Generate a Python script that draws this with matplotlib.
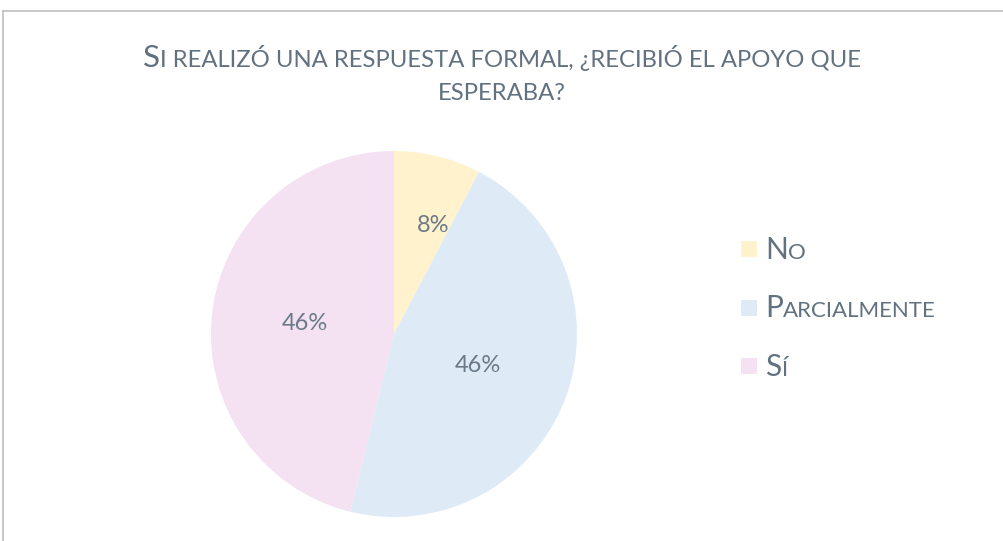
import matplotlib
matplotlib.use("Agg")
import matplotlib.pyplot as plt
from matplotlib.patches import Rectangle
from matplotlib.lines import Line2D
import numpy as np

# ---- data ----
categories = ["No", "Parcialmente", "Sí"]
counts = [1, 6, 6]
colors = ["#FFF2CC", "#DEEAF6", "#F4E2F3"]
title_line1 = "Si realizó una respuesta formal, ¿recibió el apoyo que"
title_line2 = "esperaba?"

W, H = 1004, 541
DPI = 100
TXT = "#617180"
FONT = "Lato"

fig = plt.figure(figsize=(W / DPI, H / DPI), dpi=DPI)
fig.patch.set_facecolor("white")

# frame (top + left visible)
fig.add_artist(Line2D([3 / W, 1.0], [1 - 11 / H, 1 - 11 / H], transform=fig.transFigure,
                      color="#BFBFBF", lw=1.2))
fig.add_artist(Line2D([3 / W, 3 / W], [0, 1 - 11 / H], transform=fig.transFigure,
                      color="#BFBFBF", lw=1.2))

renderer = fig.canvas.get_renderer()


def smallcaps_parts(s, big, small):
    """Split a string into (text, size) pieces emulating small caps."""
    parts = []
    for ch in s:
        sz = big if ch.isupper() else small
        c = ch.upper()
        if parts and parts[-1][1] == sz:
            parts[-1] = (parts[-1][0] + c, sz)
        else:
            parts.append((c, sz))
    return parts


def draw_parts(parts, x_px, base_px, ha="center", color=TXT):
    texts, widths = [], []
    for t, sz in parts:
        tx = fig.text(0, 0, t, fontsize=sz, family=FONT, color=color,
                      va="baseline", ha="left")
        bb = tx.get_window_extent(renderer=renderer)
        texts.append(tx)
        widths.append(bb.width)
    total = sum(widths)
    x = x_px - total / 2 if ha == "center" else x_px
    for tx, w in zip(texts, widths):
        tx.set_position((x / W, 1 - base_px / H))
        x += w
    return total


# title
draw_parts(smallcaps_parts(title_line1, 22.5, 17.2), 502, 67)
draw_parts(smallcaps_parts(title_line2, 22.5, 17.2), 502, 100)

# pie
cx, cy, r = 394, 334, 183
ax = fig.add_axes([(cx - r) / W, (H - cy - r) / H, 2 * r / W, 2 * r / H])
wedges, _, autotexts = ax.pie(counts, colors=colors, startangle=90, counterclock=False,
                              autopct=lambda p: f"{p:.0f}%", pctdistance=0.49,
                              wedgeprops=dict(linewidth=0),
                              textprops=dict(fontsize=17, family=FONT, color="#6B7A88"))
ax.set_xlim(-1, 1)
ax.set_ylim(-1, 1)
ax.set_aspect("equal")
ax.axis("off")
# small slice label sits further out along (roughly) its bisector
w0 = wedges[0]
mid = np.deg2rad((w0.theta1 + w0.theta2) / 2 - 6)
autotexts[0].set_position((0.63 * np.cos(mid), 0.63 * np.sin(mid)))

# legend
row_y = [249.5, 307.5, 366]
for cat, col, yc in zip(categories, colors, row_y):
    fig.add_artist(Rectangle((741 / W, 1 - (yc + 8) / H), 16 / W, 16 / H,
                             transform=fig.transFigure, facecolor=col, edgecolor="none"))
    draw_parts(smallcaps_parts(cat, 21.5, 16), 765, yc + 9.5, ha="left")

fig.savefig("out.png", dpi=DPI, facecolor="white")
